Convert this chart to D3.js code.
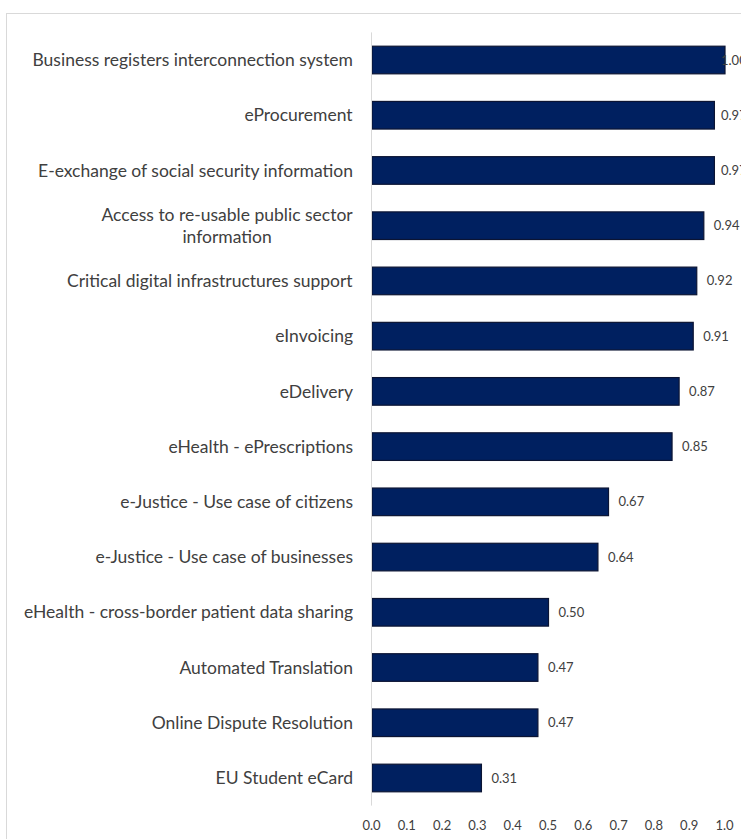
<!DOCTYPE html>
<html>
<head>
<meta charset="utf-8">
<script src="https://cdn.jsdelivr.net/npm/d3@7/dist/d3.min.js"></script>
<style>
  html, body { margin: 0; padding: 0; background: #fff; overflow: hidden; }
  svg { display: block; }
  text { font-family: Lato, "Open Sans", sans-serif; fill: #404040; }
</style>
</head>
<body>
<svg id="chart" width="741" height="839"></svg>
<script>
// Services, top to bottom
const categories = [
  "Business registers interconnection system",
  "eProcurement",
  "E-exchange of social security information",
  "Access to re-usable public sector|information",
  "Critical digital infrastructures support",
  "eInvoicing",
  "eDelivery",
  "eHealth - ePrescriptions",
  "e-Justice - Use case of citizens",
  "e-Justice - Use case of businesses",
  "eHealth - cross-border patient data sharing",
  "Automated Translation",
  "Online Dispute Resolution",
  "EU Student eCard"
];
const values = [1.00, 0.97, 0.97, 0.94, 0.92, 0.91, 0.87, 0.85, 0.67, 0.64, 0.50, 0.47, 0.47, 0.31];
const tickValues = [0, 0.1, 0.2, 0.3, 0.4, 0.5, 0.6, 0.7, 0.8, 0.9, 1.0];

const svg = d3.select("#chart");
const W = 741, H = 839;

// chart frame (runs past the right and bottom edges)
svg.append("rect")
  .attr("x", 6.5).attr("y", 13.5)
  .attr("width", W + 20).attr("height", H + 20)
  .attr("fill", "#fff").attr("stroke", "#d9d9d9").attr("stroke-width", 1);

const plot = { left: 372, right: 725, top: 32.4, bottom: 805.6 };

const x = d3.scaleLinear().domain([0, 1]).range([plot.left, plot.right]);
const y = d3.scaleBand().domain(categories)
  .range([plot.top, plot.bottom])
  .paddingInner(0.5).paddingOuter(0.25);

// x axis tick labels only
const xAxis = d3.axisBottom(x).tickValues(tickValues)
  .tickFormat(d3.format(".1f")).tickSize(0).tickPadding(0);
const gx = svg.append("g").attr("transform", `translate(-1, ${plot.bottom + 15})`).call(xAxis);
gx.select(".domain").remove();
gx.selectAll("text")
  .attr("font-size", "13px").attr("fill", "#404040")
  .style("font-family", "Lato, sans-serif");

// bars
svg.append("g").selectAll("rect")
  .data(values)
  .join("rect")
  .attr("x", x(0))
  .attr("y", (d, i) => y(categories[i]))
  .attr("width", d => x(d) - x(0))
  .attr("height", y.bandwidth())
  .attr("fill", "#002060")
  .attr("stroke", "#0b1433")
  .attr("stroke-width", 1.2);

// value labels, pulled in near the right edge of the plot
const labelFmt = d3.format(".2f");
svg.append("g").selectAll("text")
  .data(values)
  .join("text")
  .attr("x", d => Math.min(x(d) + 10, plot.right - 4))
  .attr("y", (d, i) => y(categories[i]) + y.bandwidth() / 2)
  .attr("dy", "0.35em")
  .attr("font-size", "13px")
  .text(d => labelFmt(d));

// category axis line
svg.append("line")
  .attr("x1", plot.left - 0.5).attr("x2", plot.left - 0.5)
  .attr("y1", plot.top).attr("y2", plot.bottom)
  .attr("stroke", "#d9d9d9").attr("stroke-width", 1);

// category labels, right-aligned, wrapped lines centred on each other
const lineH = 22;
const labels = svg.append("g").selectAll("g")
  .data(categories)
  .join("g")
  .attr("transform", d => `translate(353, ${y(d) + y.bandwidth() / 2})`);

labels.each(function (d) {
  const g = d3.select(this);
  const lines = d.split("|");
  const t = g.append("text")
    .attr("font-size", "17.5px")
    .attr("text-anchor", "middle");
  lines.forEach((ln, k) => {
    t.append("tspan")
      .attr("x", 0)
      .attr("y", (k - (lines.length - 1) / 2) * lineH)
      .attr("dy", "0.35em")
      .text(ln);
  });
  const w = t.node().getBBox().width;
  t.attr("transform", `translate(${-w / 2}, 0)`);
});
</script>
</body>
</html>
